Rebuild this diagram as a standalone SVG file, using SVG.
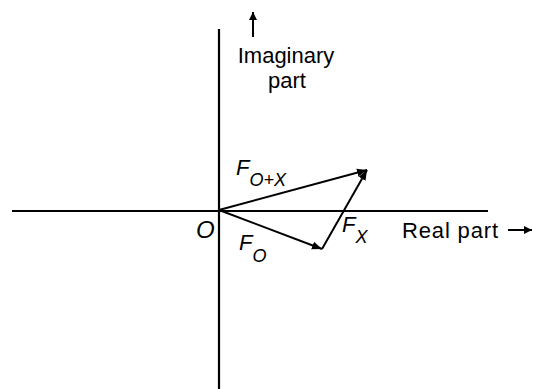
<svg xmlns="http://www.w3.org/2000/svg" width="533" height="389" viewBox="0 0 533 389">
<defs>
<marker id="ah" viewBox="0 0 10 10" refX="10" refY="5" markerWidth="10" markerHeight="10" markerUnits="userSpaceOnUse" orient="auto">
<path d="M0,1 L10,5 L0,9 Z" fill="#000"/>
</marker>
<marker id="ahs" viewBox="0 0 10 10" refX="10" refY="5" markerWidth="12" markerHeight="8" markerUnits="userSpaceOnUse" orient="auto">
<path d="M0,0 L10,5 L0,10 Z" fill="#000"/>
</marker>
</defs>
<style>
.ax{stroke:#000;stroke-width:2.2;fill:none}
.v{stroke:#000;stroke-width:2;fill:none}
.t{font-family:"Liberation Sans",Arial,sans-serif;fill:#000}
.it{font-family:"Liberation Sans",Arial,sans-serif;font-style:italic;fill:#000}
</style>
<rect width="533" height="389" fill="#fff"/>
<g id="axes">
<line class="ax" x1="219" y1="29" x2="219" y2="389"/>
<line class="ax" x1="12" y1="211" x2="488" y2="211"/>
</g>
<g id="connectors">
<line class="v" x1="219" y1="210" x2="367" y2="170" marker-end="url(#ah)"/>
<line class="v" x1="219" y1="210" x2="322" y2="249" marker-end="url(#ah)"/>
<line class="v" x1="322" y1="249" x2="367" y2="170" marker-end="url(#ah)"/>
<line class="v" x1="253" y1="37" x2="253" y2="12" marker-end="url(#ahs)"/>
<line class="v" x1="508" y1="230" x2="532" y2="230" marker-end="url(#ahs)"/>
</g>
<g id="label-imag">
<text class="t" x="286" y="63" font-size="22" text-anchor="middle">Imaginary</text>
<text class="t" x="287" y="88" font-size="22" text-anchor="middle">part</text>
</g>
<g id="label-real">
<text class="t" x="402" y="238" font-size="22" textLength="96">Real part</text>
</g>
<g id="label-origin">
<text class="it" x="196" y="238" font-size="24">O</text>
</g>
<g id="label-FOX">
<text class="it" x="236" y="175" font-size="22">F<tspan font-size="18" dy="11">O+X</tspan></text>
</g>
<g id="label-FO">
<text class="it" x="239" y="250" font-size="22">F<tspan font-size="18" dy="12">O</tspan></text>
</g>
<g id="label-FX">
<text class="it" x="342" y="232" font-size="22">F<tspan font-size="18" dy="11">X</tspan></text>
</g>
</svg>
